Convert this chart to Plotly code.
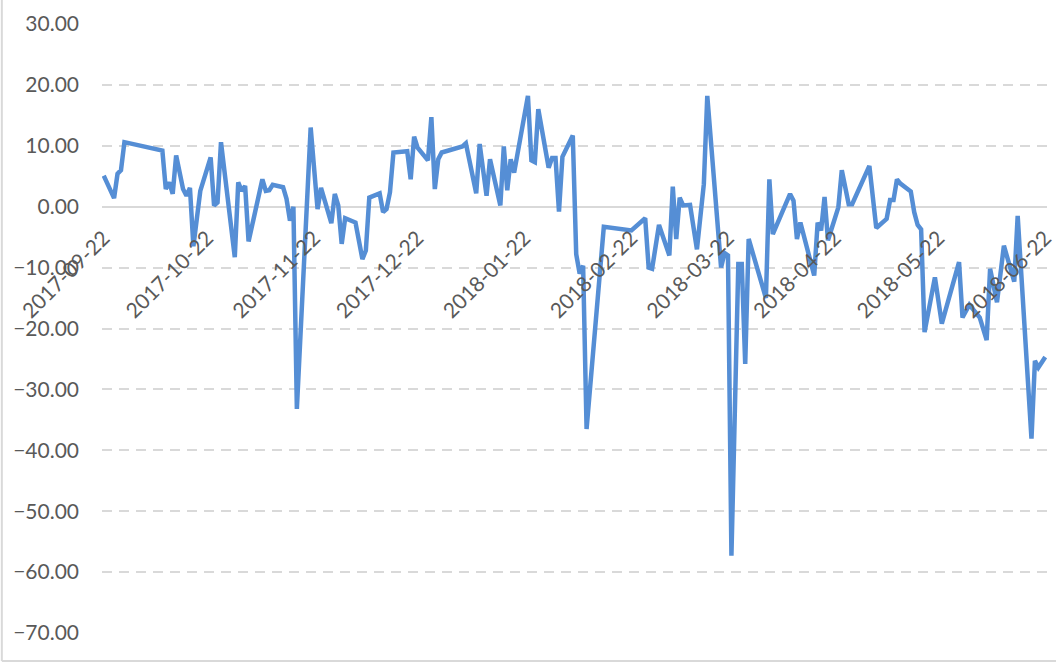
import plotly.graph_objects as go

# vertices of the line
dates = [
    "2017-09-22", "2017-09-25", "2017-09-26", "2017-09-27", "2017-09-28",
    "2017-10-09", "2017-10-10", "2017-10-11", "2017-10-12", "2017-10-13",
    "2017-10-15", "2017-10-16", "2017-10-17", "2017-10-18", "2017-10-20",
    "2017-10-23", "2017-10-24", "2017-10-25", "2017-10-26", "2017-10-30",
    "2017-10-31", "2017-11-01", "2017-11-02", "2017-11-03", "2017-11-07",
    "2017-11-08", "2017-11-09", "2017-11-10", "2017-11-13", "2017-11-14",
    "2017-11-15", "2017-11-16", "2017-11-17", "2017-11-21", "2017-11-23",
    "2017-11-24", "2017-11-27", "2017-11-28", "2017-11-29", "2017-11-30",
    "2017-12-01", "2017-12-04", "2017-12-06", "2017-12-07", "2017-12-08",
    "2017-12-11", "2017-12-12", "2017-12-13", "2017-12-14", "2017-12-15",
    "2017-12-19", "2017-12-20", "2017-12-21", "2017-12-22", "2017-12-25",
    "2017-12-26", "2017-12-27", "2017-12-28", "2017-12-29", "2018-01-04",
    "2018-01-05", "2018-01-08", "2018-01-09", "2018-01-11", "2018-01-12",
    "2018-01-15", "2018-01-16", "2018-01-17", "2018-01-18", "2018-01-19",
    "2018-01-23", "2018-01-24", "2018-01-25", "2018-01-26", "2018-01-29",
    "2018-01-30", "2018-01-31", "2018-02-01", "2018-02-02", "2018-02-05",
    "2018-02-06", "2018-02-07", "2018-02-08", "2018-02-09", "2018-02-14",
    "2018-02-22", "2018-02-26", "2018-02-27", "2018-02-28", "2018-03-02",
    "2018-03-05", "2018-03-06", "2018-03-07", "2018-03-08", "2018-03-09",
    "2018-03-11", "2018-03-13", "2018-03-15", "2018-03-16", "2018-03-20",
    "2018-03-21", "2018-03-22", "2018-03-23", "2018-03-25", "2018-03-26",
    "2018-03-27", "2018-03-28", "2018-04-02", "2018-04-03", "2018-04-04",
    "2018-04-09", "2018-04-10", "2018-04-11", "2018-04-12", "2018-04-16",
    "2018-04-17", "2018-04-18", "2018-04-19", "2018-04-20", "2018-04-23",
    "2018-04-24", "2018-04-26", "2018-04-27", "2018-05-02", "2018-05-04",
    "2018-05-07", "2018-05-08", "2018-05-09", "2018-05-10", "2018-05-11",
    "2018-05-14", "2018-05-15", "2018-05-16", "2018-05-17", "2018-05-18",
    "2018-05-21", "2018-05-23", "2018-05-28", "2018-05-29", "2018-05-31",
    "2018-06-03", "2018-06-05", "2018-06-06", "2018-06-08", "2018-06-10",
    "2018-06-13", "2018-06-14", "2018-06-18", "2018-06-19", "2018-06-20",
    "2018-06-22",
]

values = [
    5.1, 1.4, 5.4, 6.0, 10.6,
    9.2, 2.9, 4.0, 2.1, 8.4,
    2.9, 1.8, 3.1, -6.5, 2.6,
    8.1, 0.2, 0.7, 10.6, -8.3,
    4.0, 2.6, 3.4, -5.7, 4.5,
    2.6, 2.7, 3.6, 3.2, 1.3,
    -2.3, 0.0, -33.2, 13.0, -0.4,
    3.1, -2.7, 2.1, 0.2, -6.1,
    -1.9, -2.6, -8.6, -7.2, 1.5,
    2.2, -0.9, -0.4, 2.4, 8.9,
    9.1, 4.5, 11.5, 9.7, 7.6,
    14.7, 2.9, 7.8, 8.9, 9.9,
    10.4, 2.2, 10.3, 1.8, 7.8,
    0.2, 9.9, 2.7, 7.8, 5.6,
    18.2, 7.6, 7.3, 16.0, 6.4,
    8.0, 8.0, -0.8, 8.2, 11.7,
    -7.8, -11.0, -9.7, -36.5, -3.3,
    -3.9, -1.9, -10.0, -10.2, -3.0,
    -8.0, 3.3, -5.3, 1.5, 0.2,
    0.3, -7.0, 3.7, 18.2, -10.0,
    -7.6, -8.0, -57.3, -9.4, -9.4,
    -25.8, -5.3, -15.0, 4.5, -4.5,
    2.1, 1.0, -5.3, -2.6, -11.3,
    -2.6, -3.9, 1.6, -5.5, -0.1,
    6.0, 0.4, 0.4, 6.7, -3.5,
    -2.0, 1.1, 1.1, 4.5, 3.8,
    2.5, -0.9, -3.0, -3.7, -20.6,
    -11.6, -19.2, -9.1, -18.2, -16.1,
    -18.2, -21.9, -10.2, -15.7, -6.4,
    -12.3, -1.5, -38.1, -25.3, -26.4,
    -24.7,
]

tick_dates = [
    "2017-09-22", "2017-10-22", "2017-11-22", "2017-12-22", "2018-01-22",
    "2018-02-22", "2018-03-22", "2018-04-22", "2018-05-22", "2018-06-22",
]

GRID = "#D9D9D9"
TEXT = "#595959"
FONT = "Lato"

fig = go.Figure()
fig.add_trace(go.Scatter(
    x=dates, y=values, mode="lines",
    line=dict(color="#558ED5", width=4.5),
    hoverinfo="x+y",
))

fig.update_layout(
    width=1056, height=663,
    margin=dict(l=102, r=9, t=24, b=30),
    plot_bgcolor="white", paper_bgcolor="white",
    showlegend=False,
    font=dict(family=FONT, size=21, color=TEXT),
    xaxis=dict(
        type="date",
        range=["2017-09-21 12:00", "2018-06-22 12:00"],
        tickvals=tick_dates, ticktext=tick_dates,
        tickangle=-45, showgrid=False, showline=False, ticks="",
        anchor="free", position=0.7, ticklabelstandoff=14,
        zeroline=False, automargin=False,
    ),
    yaxis=dict(
        range=[-70, 30], dtick=10, tickformat=".2f",
        showgrid=True, gridcolor=GRID, gridwidth=1.8, griddash="10px,7px",
        zeroline=True, zerolinecolor=GRID, zerolinewidth=1.5,
        showline=False, ticks="", ticklabelstandoff=22, automargin=False,
    ),
    shapes=[
        dict(type="line", xref="paper", yref="paper",
             x0=-0.106, x1=-0.106, y0=-0.046, y1=1.04,
             line=dict(color="#D9D9D9", width=2)),
        dict(type="line", xref="paper", yref="paper",
             x0=-0.106, x1=1.01, y0=-0.046, y1=-0.046,
             line=dict(color="#D9D9D9", width=2)),
    ],
)

# the page body has a default 8px margin; drop it so the chart sits at 0,0
fig.write_html(
    "out.html",
    config={"displayModeBar": False},
    post_script="document.body.style.margin='0';",
)
